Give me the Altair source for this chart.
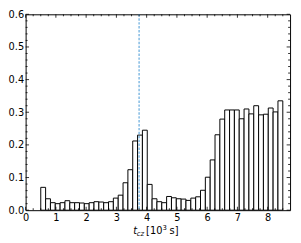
import altair as alt
import pandas as pd
import numpy as np

# ---- data ----
bin_start = 0.5
bin_width = 0.16
fractions = [
    0.070, 0.035, 0.023, 0.020, 0.023, 0.029, 0.023, 0.023, 0.022, 0.020,
    0.023, 0.026, 0.025, 0.023, 0.026, 0.037, 0.046, 0.084, 0.124, 0.212,
    0.230, 0.245,
    0.079, 0.035, 0.026, 0.023, 0.042, 0.038, 0.035, 0.034, 0.030, 0.037,
    0.041, 0.061, 0.101, 0.154, 0.231, 0.279, 0.307, 0.307, 0.307, 0.280,
    0.310, 0.295, 0.320, 0.292, 0.294, 0.313, 0.301, 0.335,
]
marker_t = 3.75
x_major = [0, 1, 2, 3, 4, 5, 6, 7, 8]
x_minor = [v for v in np.arange(0, 8.75, 0.25).round(2).tolist() if v not in x_major]
y_major = [0.0, 0.1, 0.2, 0.3, 0.4, 0.5, 0.6]
y_minor = [v for v in np.arange(0, 0.601, 0.02).round(2).tolist() if round(v * 10, 6) % 1 != 0]

lo = [bin_start + i * bin_width for i in range(len(fractions))]
hi = [v + bin_width for v in lo]
df = pd.DataFrame({"lo": lo, "hi": hi, "frac": fractions})

W, H = 270, 200
FONT = "DejaVu Sans"
x_scale = alt.Scale(domain=[0, 8.74], nice=False, zero=False)
y_scale = alt.Scale(domain=[0, 0.6], nice=False, zero=False)
x_axis = alt.Axis(values=x_major, format="d", ticks=False, grid=False, domain=False,
                  labelPadding=3, labelFontSize=10, labelFont=FONT, labelColor="black",
                  labelFlush=False, labelOverlap=False, title=None)
y_axis = alt.Axis(values=y_major, format=".1f", ticks=False, grid=False, domain=False,
                  labelPadding=2, labelFontSize=10, labelFont=FONT, labelColor="black",
                  labelOverlap=False, title=None)

bars = alt.Chart(df).mark_rect(fill="white", stroke="black", strokeWidth=1).encode(
    x=alt.X("lo:Q", scale=x_scale, axis=x_axis),
    x2="hi:Q",
    y=alt.Y("frac:Q", scale=y_scale, axis=y_axis),
    y2=alt.datum(0),
)

vline = alt.Chart(pd.DataFrame({"t": [marker_t]})).mark_rule(
    color="#62a8dc", strokeWidth=1.2, strokeDash=[2.5, 1.5]
).encode(x=alt.X("t:Q", scale=x_scale, axis=x_axis))


def xticks(vals, size):
    d = pd.DataFrame({"v": vals})
    b = alt.Chart(d).mark_rule(color="black", strokeWidth=0.8).encode(
        x=alt.X("v:Q", scale=x_scale, axis=x_axis), y=alt.value(H), y2=alt.value(H - size))
    t = alt.Chart(d).mark_rule(color="black", strokeWidth=0.8).encode(
        x=alt.X("v:Q", scale=x_scale, axis=x_axis), y=alt.value(0), y2=alt.value(size))
    return [b, t]


def yticks(vals, size):
    d = pd.DataFrame({"v": vals})
    l = alt.Chart(d).mark_rule(color="black", strokeWidth=0.8).encode(
        y=alt.Y("v:Q", scale=y_scale, axis=y_axis), x=alt.value(0), x2=alt.value(size))
    r = alt.Chart(d).mark_rule(color="black", strokeWidth=0.8).encode(
        y=alt.Y("v:Q", scale=y_scale, axis=y_axis), x=alt.value(W), x2=alt.value(W - size))
    return [l, r]


tick_layers = xticks(x_major, 3.5) + xticks(x_minor, 2) + yticks(y_major, 3.5) + yticks(y_minor, 2)

one = pd.DataFrame({"a": [0]})
base_y = 224


def label(text, x, y, size, italic=False):
    kw = dict(text=text, font=FONT, fontSize=size, align="left", baseline="alphabetic", color="black")
    if italic:
        kw["fontStyle"] = "italic"
    return alt.Chart(one).mark_text(**kw).encode(x=alt.value(x), y=alt.value(y))


title_layers = [
    label("t", 110, base_y, 10, True),
    label("cz", 113.5, base_y + 2.5, 7, True),
    label("[10", 123, base_y, 10),
    label("3", 139.8, base_y - 4, 7),
    label("s]", 147, base_y, 10),
]

chart = alt.layer(bars, vline, *tick_layers, *title_layers).properties(
    width=W, height=H,
    autosize=alt.AutoSizeParams(type="none"),
    padding={"left": 18, "top": 4, "right": 3, "bottom": 28},
).configure_view(stroke="black", strokeWidth=1)

chart.save("out.html", embed_options={"renderer": "svg", "actions": False})
